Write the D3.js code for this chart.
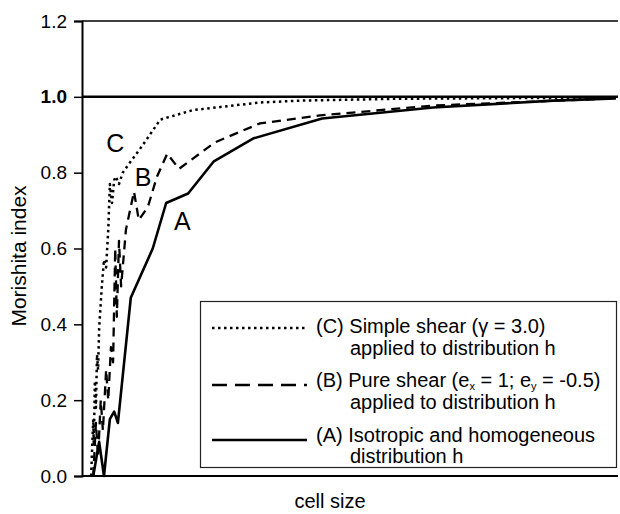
<!DOCTYPE html>
<html>
<head>
<meta charset="utf-8">
<script src="https://cdn.jsdelivr.net/npm/d3@7"></script>
<style>
  body { margin: 0; background: #fff; }
  svg { font-family: "Liberation Sans", Arial, sans-serif; }
</style>
</head>
<body>
<div id="chart"></div>
<script>
// cell size (arbitrary units, 0-1000 across the plot) and Morishita index per curve
const cellA = [21, 32, 41, 52, 60, 67, 91, 132, 157, 198, 246, 319, 448, 655, 879, 996];
const valA = [0, 0.09, 0, 0.15, 0.17, 0.14, 0.47, 0.6, 0.72, 0.745, 0.83, 0.89, 0.943, 0.972, 0.99, 0.996];

const cellB = [21, 26, 30, 35, 39, 45, 49, 54, 58, 62, 65, 69, 73, 82, 97, 106, 123, 140, 159, 181, 248, 332, 444, 655, 996];
const valB = [0, 0.14, 0.05, 0.2, 0.12, 0.28, 0.2, 0.34, 0.3, 0.6, 0.42, 0.62, 0.5, 0.65, 0.75, 0.675, 0.71, 0.79, 0.85, 0.81, 0.88, 0.93, 0.951, 0.977, 0.996];

const cellC = [17, 21, 22, 24, 26, 28, 30, 32, 37, 41, 45, 49, 52, 56, 60, 63, 69, 76, 86, 112, 146, 207, 332, 407, 593, 996];
const valC = [0, 0.15, 0.08, 0.25, 0.18, 0.32, 0.28, 0.39, 0.5, 0.57, 0.55, 0.65, 0.77, 0.72, 0.78, 0.79, 0.77, 0.8, 0.82, 0.87, 0.94, 0.965, 0.985, 0.99, 0.995, 0.998];

const yTicks = [0, 0.2, 0.4, 0.6, 0.8, 1.0, 1.2];
const curveLabels = [
  { key: "C", cell: 62, val: 0.878 },
  { key: "B", cell: 114, val: 0.788 },
  { key: "A", cell: 187, val: 0.672 }
];

const width = 620, height = 514;
const mLeft = 82, mRight = 618, mTop = 21, mBottom = 476;

const svg = d3.select("#chart").append("svg")
  .attr("width", width)
  .attr("height", height);

const x = d3.scaleLinear().domain([0, 1000]).range([mLeft, mRight]);
const y = d3.scaleLinear().domain([0, 1.2]).range([mBottom, mTop]);

// frame lines
svg.append("line")
  .attr("x1", mLeft).attr("x2", mRight)
  .attr("y1", y(1.2)).attr("y2", y(1.2))
  .attr("stroke", "#000").attr("stroke-width", 1.5);
svg.append("line")
  .attr("x1", mLeft).attr("x2", mRight)
  .attr("y1", y(1.0)).attr("y2", y(1.0))
  .attr("stroke", "#000").attr("stroke-width", 2.5);
svg.append("line")
  .attr("x1", mLeft).attr("x2", mRight)
  .attr("y1", y(0)).attr("y2", y(0))
  .attr("stroke", "#000").attr("stroke-width", 2);

// y axis
const yAxis = svg.append("g")
  .attr("transform", `translate(${mLeft},0)`)
  .call(d3.axisLeft(y).tickValues(yTicks).tickFormat(d3.format(".1f")).tickSize(8).tickPadding(7));
yAxis.select(".domain").attr("stroke-width", 2);
yAxis.selectAll(".tick line").attr("stroke-width", 1.5);
yAxis.selectAll(".tick text")
  .attr("font-size", 19)
  .attr("font-family", "Liberation Sans, Arial, sans-serif")
  .attr("fill", "#000")
  .attr("font-weight", (d) => (d === 1 ? "bold" : "normal"));

svg.append("text")
  .attr("transform", "rotate(-90)")
  .attr("x", -256)
  .attr("y", 26)
  .attr("text-anchor", "middle")
  .attr("font-size", 21)
  .text("Morishita index");

svg.append("text")
  .attr("x", 330)
  .attr("y", 508)
  .attr("text-anchor", "middle")
  .attr("font-size", 20)
  .text("cell size");

// curves
const line = d3.line().x((d) => x(d[0])).y((d) => y(d[1]));
const curves = [
  { cells: cellA, vals: valA, dash: null, w: 2.6 },
  { cells: cellB, vals: valB, dash: "9,6", w: 2.3 },
  { cells: cellC, vals: valC, dash: "2.5,3.5", w: 2.5 }
];
curves.forEach((c) => {
  svg.append("path")
    .datum(c.cells.map((v, i) => [v, c.vals[i]]))
    .attr("d", line)
    .attr("fill", "none")
    .attr("stroke", "#000")
    .attr("stroke-width", c.w)
    .attr("stroke-dasharray", c.dash)
    .attr("stroke-linejoin", "round");
});

svg.selectAll(".curve-label")
  .data(curveLabels)
  .join("text")
  .attr("class", "curve-label")
  .attr("x", (d) => x(d.cell))
  .attr("y", (d) => y(d.val))
  .attr("dy", "0.36em")
  .attr("text-anchor", "middle")
  .attr("font-size", 25)
  .text((d) => d.key);

// legend
const lg = svg.append("g");
lg.append("rect")
  .attr("x", 200.5).attr("y", 301.5)
  .attr("width", 416).attr("height", 166)
  .attr("fill", "#fff")
  .attr("stroke", "#222")
  .attr("stroke-width", 1.2);

const rowY = [328, 385, 440];
const dashes = ["2.5,3.5", "15,8", null];
rowY.forEach((ry, i) => {
  lg.append("line")
    .attr("x1", 212).attr("x2", 307)
    .attr("y1", ry).attr("y2", ry)
    .attr("stroke", "#000")
    .attr("stroke-width", 2.5)
    .attr("stroke-dasharray", dashes[i]);
});

const t1 = lg.append("text").attr("font-size", 20);
t1.append("tspan").attr("x", 316).attr("y", 333).text("(C) Simple shear (\u03b3 = 3.0)");
t1.append("tspan").attr("x", 350).attr("y", 355).text("applied to distribution h");

const t2 = lg.append("text").attr("font-size", 20);
t2.append("tspan").attr("x", 316).attr("y", 387).text("(B) Pure shear (e");
t2.append("tspan").attr("font-size", 11).attr("dy", 3).text("x");
t2.append("tspan").attr("dy", -3).text(" = 1; e");
t2.append("tspan").attr("font-size", 11).attr("dy", 3).text("y");
t2.append("tspan").attr("dy", -3).text(" = -0.5)");
t2.append("tspan").attr("x", 350).attr("y", 409).text("applied to distribution h");

const t3 = lg.append("text").attr("font-size", 20);
t3.append("tspan").attr("x", 316).attr("y", 442).text("(A) Isotropic and homogeneous");
t3.append("tspan").attr("x", 350).attr("y", 463).text("distribution h");
</script>
</body>
</html>
